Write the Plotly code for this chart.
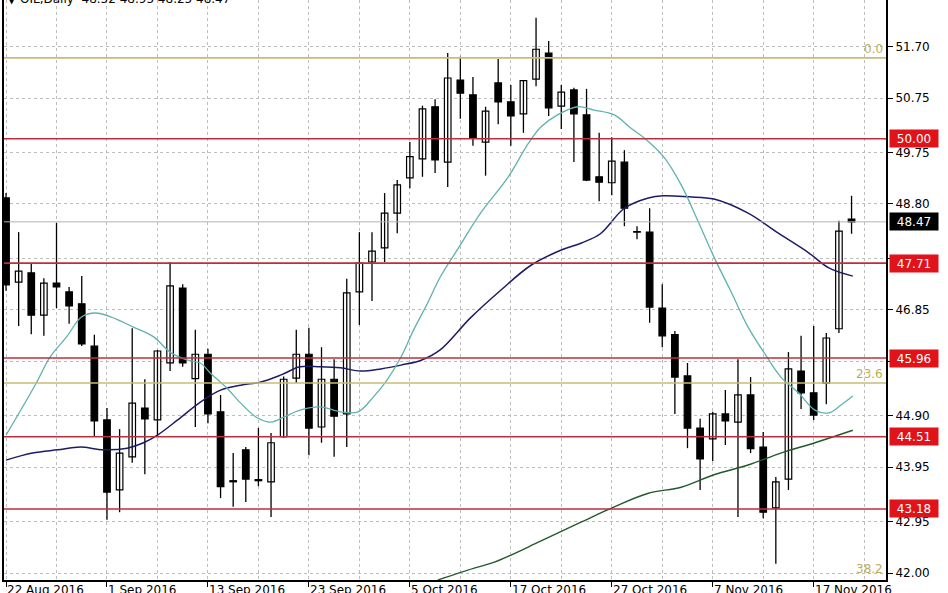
import plotly.graph_objects as go

# ---- data (daily OIL candles, 22 Aug - 18 Nov 2016) ----
bar_index = list(range(68))
opens = [48.91, 47.36, 47.53, 46.75, 47.34, 47.18, 46.96, 46.18, 44.82, 43.53,
         44.14, 45.04, 44.82, 45.87, 47.25, 45.58, 46.03, 44.97, 43.70, 44.27,
         43.72, 43.68, 44.51, 45.59, 46.03, 44.69, 45.57, 44.93, 47.18, 47.73,
         47.99, 48.63, 49.28, 49.63, 50.59, 49.57, 51.08, 50.81, 49.94, 51.03,
         50.68, 50.46, 51.10, 51.58, 50.60, 50.90, 50.44, 49.30, 49.19, 49.57,
         48.29, 48.28, 46.88, 46.39, 45.63, 44.67, 44.47, 44.93, 44.78, 45.28,
         44.32, 43.20, 43.73, 45.72, 45.32, 45.50, 46.50, 48.52]
highs = [49.00, 48.28, 47.71, 47.43, 48.45, 47.27, 47.47, 46.39, 45.04, 44.65,
         46.51, 45.57, 46.11, 47.73, 47.32, 46.48, 46.13, 45.28, 44.21, 44.32,
         44.67, 44.58, 45.62, 46.48, 46.52, 46.16, 45.94, 47.42, 48.28, 48.28,
         49.00, 49.24, 49.94, 50.61, 50.73, 51.58, 51.51, 51.14, 50.59, 51.47,
         50.99, 51.08, 52.23, 51.80, 50.99, 50.94, 50.92, 50.11, 50.03, 49.79,
         48.39, 48.72, 47.32, 46.46, 45.87, 44.84, 44.97, 45.37, 45.94, 45.61,
         44.60, 43.77, 46.07, 46.37, 46.55, 46.42, 48.49, 48.95]
lows = [47.20, 46.55, 46.40, 46.37, 46.88, 46.59, 46.18, 44.51, 42.98, 43.12,
        44.03, 43.82, 44.51, 45.72, 45.80, 44.69, 44.76, 43.38, 43.22, 43.31,
        43.60, 43.03, 44.49, 45.50, 44.17, 44.40, 44.14, 44.32, 46.57, 47.01,
        47.73, 48.26, 49.09, 49.30, 49.37, 49.11, 50.37, 49.87, 49.32, 50.27,
        49.87, 50.11, 50.97, 50.42, 50.18, 49.57, 49.22, 48.85, 48.96, 48.39,
        48.15, 46.61, 46.16, 44.93, 44.30, 43.53, 44.06, 44.36, 43.03, 44.21,
        43.01, 42.17, 43.53, 45.02, 44.82, 45.11, 46.42, 48.25]
closes = [47.31, 47.56, 46.75, 47.34, 47.27, 46.92, 46.22, 44.80, 43.49, 44.21,
          45.13, 44.84, 46.09, 47.29, 45.87, 46.03, 44.93, 43.59, 43.68, 43.73,
          43.70, 44.40, 45.57, 46.03, 44.67, 45.57, 44.89, 47.16, 47.71, 47.93,
          48.63, 49.15, 49.67, 50.55, 49.61, 51.12, 50.84, 50.01, 50.51, 50.68,
          50.42, 51.07, 51.65, 50.57, 50.86, 50.46, 49.24, 49.20, 49.59, 48.72,
          48.28, 46.90, 46.37, 45.61, 44.67, 44.10, 44.93, 44.80, 45.28, 44.29,
          43.12, 43.68, 45.76, 45.32, 44.91, 46.33, 48.30, 48.47]

tick_bars = [0, 8, 16, 24, 32, 40, 48, 56, 64]
tick_labels = ["22 Aug 2016", "1 Sep 2016", "13 Sep 2016", "23 Sep 2016", "5 Oct 2016",
               "17 Oct 2016", "27 Oct 2016", "7 Nov 2016", "17 Nov 2016"]

# moving averages (values read at points along each line)
fast_ma_x = [0, 2.3, 3.5, 4.8, 6.0, 7.1, 8.3, 10.1, 11.7, 13.0, 14.4, 15.4, 16.2, 17.4,
             18.6, 19.9, 21.0, 22.0, 23.3, 24.9, 26.5, 27.9, 29.1, 30.2, 31.3, 32.3,
             33.4, 34.4, 35.8, 37.6, 39.8, 41.4, 42.4, 43.7, 45.3, 46.6, 48.2, 49.5,
             50.6, 52.1, 53.5, 54.8, 56.1, 57.5, 58.8, 60.1, 61.4, 62.8, 64.1, 65.2,
             66.2, 67.1]
fast_ma_y = [44.54, 45.46, 45.98, 46.35, 46.72, 46.79, 46.72, 46.53, 46.35, 46.07, 45.92,
             45.87, 45.68, 45.43, 45.13, 44.86, 44.78, 44.87, 45.00, 45.06, 44.97, 44.97,
             45.24, 45.56, 45.98, 46.48, 46.97, 47.45, 47.97, 48.63, 49.30, 49.92, 50.22,
             50.44, 50.59, 50.53, 50.44, 50.20, 50.01, 49.67, 49.15, 48.50, 47.82, 47.16,
             46.53, 46.05, 45.61, 45.32, 45.00, 44.95, 45.10, 45.26]
mid_ma_x = [0, 2.1, 4.1, 5.9, 7.7, 9.6, 10.9, 12.0, 13.6, 15.4, 17.0, 18.6, 20.2, 21.8,
            23.3, 24.9, 26.5, 28.1, 29.7, 31.3, 32.9, 34.4, 36.8, 39.2, 41.6, 44.0,
            45.6, 47.1, 49.0, 50.9, 52.1, 54.1, 56.1, 58.8, 61.2, 63.6, 65.2, 67.1]
mid_ma_y = [44.08, 44.21, 44.27, 44.32, 44.27, 44.30, 44.40, 44.54, 44.82, 45.15, 45.37,
            45.46, 45.52, 45.65, 45.80, 45.80, 45.78, 45.72, 45.76, 45.83, 45.92, 46.11,
            46.70, 47.21, 47.67, 47.95, 48.08, 48.25, 48.72, 48.91, 48.95, 48.93, 48.89,
            48.63, 48.26, 47.90, 47.62, 47.47]
slow_ma_x = [34.2, 37.1, 38.7, 42.4, 45.6, 48.2, 50.9, 53.5, 56.1, 58.8, 61.4, 64.1, 67.1]
slow_ma_y = [41.87, 42.09, 42.20, 42.59, 42.94, 43.22, 43.47, 43.58, 43.81, 43.99, 44.21,
             44.40, 44.63]

red_levels = [50.00, 47.71, 45.96, 44.51, 43.18]
last_price = 48.47
fib_levels = [51.49, 45.50, 41.79]
fib_labels = ["0.0", "23.6", "38.2"]
y_ticks = [51.70, 50.75, 49.75, 48.80, 47.80, 46.85, 45.90, 44.90, 43.95, 42.95, 42.00]
y_tick_hidden = [47.80, 45.90]   # labels covered by the price boxes in the reference
title_text = "▼ OIL,Daily  48.52 48.95 48.25 48.47"

Y_MIN, Y_MAX = 41.871, 52.557
X_MIN, X_MAX = -0.16, 69.73

FONT = "DejaVu Sans"
GRID = "#bdbdbd"
RED = "#bb2f3d"
FIB = "#c9bb78"

fig = go.Figure()

# wicks
wx, wy = [], []
for i, h, l in zip(bar_index, highs, lows):
    wx += [i, i, None]
    wy += [l, h, None]
fig.add_trace(go.Scatter(x=wx, y=wy, mode="lines", line=dict(color="black", width=1.3),
                         hoverinfo="skip", showlegend=False))

# bodies
base = [min(o, c) for o, c in zip(opens, closes)]
height = [max(abs(c - o), 0.004) for o, c in zip(opens, closes)]
colors = ["white" if c > o else "black" for o, c in zip(opens, closes)]
fig.add_trace(go.Bar(x=bar_index, y=height, base=base, width=0.52,
                     marker=dict(color=colors, line=dict(color="black", width=1.2)),
                     showlegend=False, hoverinfo="skip"))

# moving averages
fig.add_trace(go.Scatter(x=slow_ma_x, y=slow_ma_y, mode="lines", line=dict(color="#215a2c", width=1.4, shape="spline"),
                         showlegend=False, hoverinfo="skip"))
fig.add_trace(go.Scatter(x=mid_ma_x, y=mid_ma_y, mode="lines", line=dict(color="#1c1c66", width=1.5, shape="spline"),
                         showlegend=False, hoverinfo="skip"))
fig.add_trace(go.Scatter(x=fast_ma_x, y=fast_ma_y, mode="lines", line=dict(color="#5fb2ad", width=1.3, shape="spline"),
                         showlegend=False, hoverinfo="skip"))

shapes = []
annotations = []
for lv in red_levels:
    shapes.append(dict(type="line", xref="paper", x0=0, x1=1, yref="y", y0=lv, y1=lv,
                       line=dict(color=RED, width=1.6), layer="above"))
    annotations.append(dict(xref="paper", x=1, xanchor="left", xshift=3, yref="y", y=lv,
                            yanchor="middle", text=f"{lv:.2f}", showarrow=False,
                            bgcolor="#e0121a", borderpad=2, width=44, height=13,
                            font=dict(family=FONT, size=12, color="white")))
shapes.append(dict(type="line", xref="paper", x0=0, x1=1, yref="y", y0=last_price, y1=last_price,
                   line=dict(color="#b4b4b4", width=1), layer="above"))
annotations.append(dict(xref="paper", x=1, xanchor="left", xshift=3, yref="y", y=last_price,
                        yanchor="middle", text=f"{last_price:.2f}", showarrow=False,
                        bgcolor="black", borderpad=2, width=44, height=13,
                        font=dict(family=FONT, size=12, color="white")))
for lv, lab in zip(fib_levels, fib_labels):
    if Y_MIN < lv < Y_MAX:
        shapes.append(dict(type="line", xref="paper", x0=0, x1=1, yref="y", y0=lv, y1=lv,
                           line=dict(color=FIB, width=1.6), layer="above"))
    annotations.append(dict(xref="paper", x=1, xanchor="right", xshift=-1, yref="y",
                            y=max(lv, Y_MIN), yanchor="bottom", yshift=0 if lv > Y_MIN else 2,
                            text=lab, showarrow=False,
                            font=dict(family=FONT, size=12, color="#bfae55")))

for b, lab in zip(tick_bars, tick_labels):
    annotations.append(dict(xref="x", x=b, xanchor="left", xshift=-1, yref="paper", y=0,
                            yanchor="top", yshift=-1, text=lab, showarrow=False,
                            font=dict(family=FONT, size=12, color="black")))

annotations.append(dict(xref="paper", x=0, xanchor="left", xshift=1, yref="paper", y=1,
                        yanchor="middle", yshift=1, text=title_text, showarrow=False,
                        font=dict(family=FONT, size=12, color="black")))

fig.update_layout(
    width=948, height=593,
    margin=dict(l=4, r=62, t=0, b=13),
    paper_bgcolor="white", plot_bgcolor="white",
    barmode="overlay", showlegend=False,
    shapes=shapes, annotations=annotations,
    xaxis=dict(range=[X_MIN, X_MAX], tickmode="array", tickvals=tick_bars, showticklabels=False,
               ticks="outside", ticklen=5, tickcolor="black", tickwidth=1,
               showgrid=True, gridcolor=GRID, griddash="3px,3px", gridwidth=1,
               minor=dict(dtick=4, tick0=0, showgrid=True, gridcolor=GRID, griddash="3px,3px", gridwidth=1),
               showline=True, linecolor="black", linewidth=1.5, zeroline=False, fixedrange=True),
    yaxis=dict(range=[Y_MIN, Y_MAX], side="right", tickmode="array", tickvals=y_ticks,
               ticktext=["" if v in y_tick_hidden else f"{v:.2f}" for v in y_ticks],
               ticks="outside", ticklen=5, tickcolor="black",
               tickfont=dict(family=FONT, size=12, color="black"),
               showgrid=True, gridcolor=GRID, griddash="3px,3px", gridwidth=1,
               showline=True, mirror=True, linecolor="black", linewidth=2, zeroline=False,
               fixedrange=True),
)

fig.write_html("out.html", config={"displayModeBar": False},
               post_script="document.body.style.margin='0';document.body.style.overflow='hidden';")
